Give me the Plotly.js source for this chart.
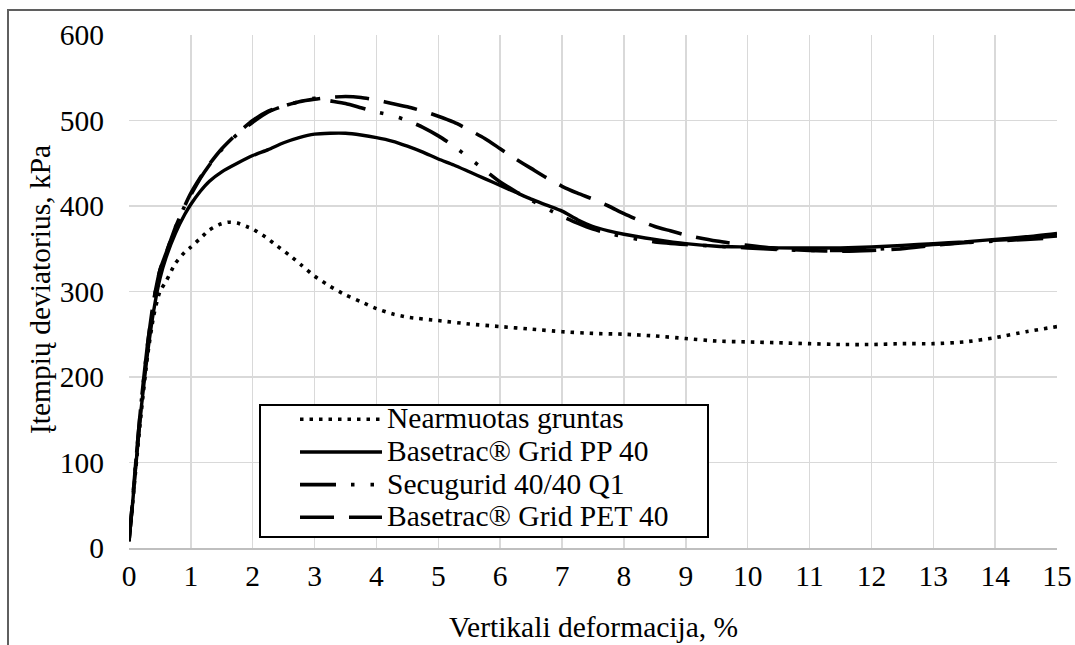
<!DOCTYPE html>
<html>
<head>
<meta charset="utf-8">
<script src="https://cdn.plot.ly/plotly-3.0.1.min.js"></script>
<style>
  html, body { margin: 0; padding: 0; background: #fff; overflow: hidden; }
  #wrap { position: relative; width: 1075px; height: 645px; }
  #chart { position: absolute; left: 0; top: 0; width: 1075px; height: 645px; }
  #frame { position: absolute; left: 7px; top: 9px; width: 1200px; height: 800px;
           border-left: 2px solid #5f5f5f; border-top: 2px solid #5f5f5f; pointer-events: none; }
</style>
</head>
<body>
<div id="wrap"><div id="chart"></div><div id="frame"></div></div>
<script>
// ---- Data ----
const seriesNames = [
  "Nearmuotas gruntas",
  "Basetrac® Grid PP 40",
  "Secugurid 40/40 Q1",
  "Basetrac® Grid PET 40"
];

const xUnreinforced = [0, 0.05, 0.1, 0.2, 0.3, 0.4, 0.5, 0.6, 0.75, 0.9, 1.0, 1.15, 1.3, 1.45, 1.6, 1.75, 1.9, 2.0, 2.2, 2.4, 2.6, 2.8, 3.0, 3.25, 3.5, 3.75, 4.0, 4.25, 4.5, 5.0, 5.5, 6.0, 6.5, 7.0, 7.5, 8.0, 8.5, 9.0, 9.5, 10, 10.5, 11, 11.5, 12, 12.5, 13, 13.5, 14, 14.5, 15];
const yUnreinforced = [8, 45, 85, 160, 225, 272, 300, 312, 333, 346, 352, 362, 372, 378, 381, 380, 376, 373, 364, 353, 342, 330, 318, 306, 296, 288, 280, 274, 270, 266, 262, 259, 256, 253, 251, 250, 248, 245, 242, 241, 240, 239, 238, 238, 239, 239, 241, 246, 253, 259];

const xPP = [0, 0.05, 0.1, 0.2, 0.3, 0.4, 0.5, 0.6, 0.75, 0.9, 1.0, 1.15, 1.3, 1.5, 1.75, 2.0, 2.25, 2.5, 2.75, 3.0, 3.25, 3.5, 3.75, 4.0, 4.25, 4.5, 4.75, 5.0, 5.25, 5.5, 5.75, 6.0, 6.25, 6.5, 6.75, 7.0, 7.25, 7.5, 7.75, 8.0, 8.5, 9.0, 9.5, 10, 10.5, 11, 11.5, 12, 12.5, 13, 13.5, 14, 14.5, 15];
const yPP = [8, 45, 88, 165, 228, 278, 315, 340, 368, 390, 402, 417, 429, 440, 450, 459, 466, 474, 480, 484, 485, 485, 483, 480, 476, 470, 463, 455, 448, 440, 432, 424, 416, 408, 401, 394, 384, 376, 371, 367, 361, 356, 353, 352, 351, 351, 351, 352, 354, 356, 358, 361, 364, 368];

const xSecu = [0, 0.05, 0.1, 0.2, 0.3, 0.4, 0.5, 0.6, 0.75, 0.9, 1.0, 1.15, 1.3, 1.5, 1.75, 2.0, 2.25, 2.5, 2.75, 3.0, 3.25, 3.5, 3.75, 4.0, 4.25, 4.5, 4.75, 5.0, 5.25, 5.5, 5.75, 6.0, 6.25, 6.5, 6.75, 7.0, 7.25, 7.5, 7.75, 8.0, 8.5, 9.0, 9.5, 10, 10.5, 11, 11.5, 12, 12.5, 13, 13.5, 14, 14.5, 15];
const ySecu = [8, 48, 92, 172, 238, 290, 325, 345, 375, 400, 413, 432, 448, 466, 484, 498, 510, 517, 522, 526, 523, 520, 515, 510, 506, 500, 492, 482, 470, 456, 442, 428, 417, 407, 397, 388, 380, 373, 368, 364, 358, 355, 353, 351, 349, 348, 348, 349, 352, 355, 357, 359, 361, 363];

const xPET = [0, 0.05, 0.1, 0.2, 0.3, 0.4, 0.5, 0.6, 0.75, 0.9, 1.0, 1.15, 1.3, 1.5, 1.75, 2.0, 2.25, 2.5, 2.75, 3.0, 3.25, 3.5, 3.75, 4.0, 4.25, 4.5, 4.75, 5.0, 5.25, 5.5, 5.75, 6.0, 6.25, 6.5, 6.75, 7.0, 7.25, 7.5, 7.75, 8.0, 8.25, 8.5, 8.75, 9.0, 9.5, 10, 10.5, 11, 11.5, 12, 12.5, 13, 13.5, 14, 14.5, 15];
const yPET = [8, 48, 92, 172, 238, 290, 325, 345, 375, 400, 415, 433, 449, 467, 485, 500, 511, 517, 522, 525, 527, 528, 527, 524, 520, 516, 511, 505, 498, 489, 479, 467, 455, 444, 433, 423, 415, 408, 400, 391, 383, 376, 371, 366, 359, 354, 350, 348, 347, 348, 350, 354, 357, 360, 362, 365];

const xTickVals = [0,1,2,3,4,5,6,7,8,9,10,11,12,13,14,15];
const yTickVals = [0,100,200,300,400,500,600];

const xTitle = "Vertikali deformacija, %";
const yTitle = "Įtempių deviatorius, kPa";

// ---- Chart ----
const FONT = "Liberation Serif";
const FS = 29.5;        // tick / title size
const LEG_FS = 29.5;    // visible legend text size
const LEG_ROW = 22.8;   // legend font size used only for row spacing

const legendLabel = s => '<span style="font-size:' + LEG_FS + 'px">' + s + '</span>';

const traces = [
  { x: xUnreinforced, y: yUnreinforced, name: legendLabel(seriesNames[0]), mode: "lines",
    line: { color: "#000", width: 3.6, dash: "3.5px,6px", shape: "spline", smoothing: 0.6 } },
  { x: xPP, y: yPP, name: legendLabel(seriesNames[1]), mode: "lines",
    line: { color: "#000", width: 3.4, dash: "solid", shape: "spline", smoothing: 0.6 } },
  { x: xSecu, y: ySecu, name: legendLabel(seriesNames[2]), mode: "lines",
    line: { color: "#000", width: 3.6, dash: "36px,15px,3.5px,16px,3.5px,15px", shape: "spline", smoothing: 0.6 } },
  { x: xPET, y: yPET, name: legendLabel(seriesNames[3]), mode: "lines",
    line: { color: "#000", width: 3.6, dash: "34px,15px", shape: "spline", smoothing: 0.6 } }
];

const L = 129, R = 1057, T = 35, B = 548;
const W = 1075, H = 645;
const px2x = p => (p - L) / (R - L);
const px2y = p => (B - p) / (B - T);

const layout = {
  width: W, height: H,
  margin: { l: L, r: W - R, t: T, b: H - B, pad: 0 },
  paper_bgcolor: "#fff", plot_bgcolor: "#fff",
  font: { family: FONT, size: FS, color: "#000" },
  showlegend: true,
  xaxis: {
    range: [0, 15], tickvals: xTickVals, ticktext: xTickVals.map(String),
    showgrid: true, gridcolor: "#d9d9d9", gridwidth: 1.5,
    zeroline: false, showline: true, linecolor: "#bfbfbf", linewidth: 1.5,
    ticks: "", ticklabelstandoff: 1,
    tickfont: { family: FONT, size: FS, color: "#000" }
  },
  yaxis: {
    range: [0, 600], tickvals: yTickVals, ticktext: yTickVals.map(String),
    showgrid: true, gridcolor: "#d9d9d9", gridwidth: 1.5,
    zeroline: false, showline: false,
    ticks: "", ticklabelstandoff: 24,
    tickfont: { family: FONT, size: FS, color: "#000" }
  },
  legend: {
    x: px2x(295), y: px2y(398), xanchor: "left", yanchor: "top",
    bgcolor: "rgba(0,0,0,0)", borderwidth: 0, itemwidth: 82,
    font: { family: FONT, size: LEG_ROW, color: "#000" },
    tracegroupgap: 0
  },
  shapes: [
    { type: "rect", xref: "paper", yref: "paper",
      x0: px2x(260), x1: px2x(708), y0: px2y(537), y1: px2y(405),
      line: { color: "#000", width: 2 }, fillcolor: "#fff", layer: "above" }
  ],
  annotations: [
    { text: xTitle, xref: "paper", yref: "paper", x: 0.5, y: px2y(627),
      xanchor: "center", yanchor: "middle", showarrow: false,
      font: { family: FONT, size: FS, color: "#000" } },
    { text: yTitle, xref: "paper", yref: "paper", x: px2x(40), y: px2y(290),
      xanchor: "center", yanchor: "middle", showarrow: false, textangle: -90,
      font: { family: FONT, size: FS, color: "#000" } }
  ]
};

Plotly.newPlot("chart", traces, layout, { displayModeBar: false, staticPlot: true });
</script>
</body>
</html>
